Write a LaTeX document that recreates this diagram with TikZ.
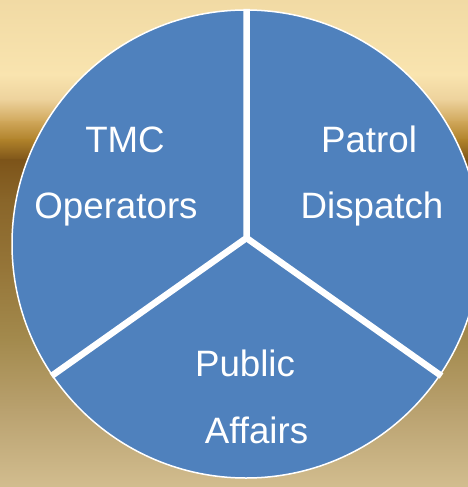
\documentclass[tikz,border=0pt]{standalone}
\usepackage{fontspec}
\setmainfont{Liberation Sans}

% background gradient stops, top to bottom
\definecolor{bg0}{HTML}{F1DAA4}
\definecolor{bg1}{HTML}{F9E4AF}
\definecolor{bg2}{HTML}{EDD29C}
\definecolor{bg3}{HTML}{CFA659}
\definecolor{bg4}{HTML}{B0822A}
\definecolor{bg5}{HTML}{7D5419}
\definecolor{bg6}{HTML}{896529}
\definecolor{bg7}{HTML}{967639}
\definecolor{bg8}{HTML}{A38A4D}
\definecolor{bg9}{HTML}{B9A16F}
\definecolor{bg10}{HTML}{D2BD8F}
\definecolor{pieblue}{HTML}{4F81BD}

\tikzset{
  slicelabel/.style={anchor=base, text=white, inner sep=0pt,
    font=\fontsize{36.7}{44}\selectfont},
  divider/.style={draw=white, line width=6.5pt},
  piedisc/.style={fill=pieblue, draw=white, line width=1.5pt},
}

\begin{document}
\begin{tikzpicture}[x=1pt, y=-1pt]
  \useasboundingbox (0,0) rectangle (468,487);
  \clip (0,0) rectangle (468,487);

  % vertical background gradient built from bands
  \foreach \ya/\yb/\ca/\cb in {
      0/75/bg0/bg1, 75/100/bg1/bg2, 100/122/bg2/bg3, 122/140/bg3/bg4,
      140/160/bg4/bg5, 160/200/bg5/bg6, 200/270/bg6/bg7, 270/340/bg7/bg8,
      340/410/bg8/bg9, 410/487/bg9/bg10}
    \shade[top color=\ca, bottom color=\cb]
      (-1,\ya-0.6) rectangle (469,\yb+0.6);

  % the pie
  \coordinate (c) at (246,244);
  \fill[piedisc] (c) circle[radius=234];

  % slice borders
  \coordinate (hub) at (246.5,238);
  \coordinate (topend) at (246.5,9);
  \coordinate (leftend) at (51.5,376);
  \coordinate (rightend) at (441.5,376);
  \draw[divider] (topend) -- (hub) -- (leftend);
  \draw[divider] (hub) -- (rightend);

  % slice labels
  \node[slicelabel] (tmc) at (125,152) {TMC};
  \node[slicelabel] (operators) at (116,218) {Operators};
  \node[slicelabel] (patrol) at (369,152) {Patrol};
  \node[slicelabel] (dispatch) at (372,218) {Dispatch};
  \node[slicelabel] (public) at (245,376) {Public};
  \node[slicelabel] (affairs) at (256.5,443) {Affairs};
\end{tikzpicture}
\end{document}
